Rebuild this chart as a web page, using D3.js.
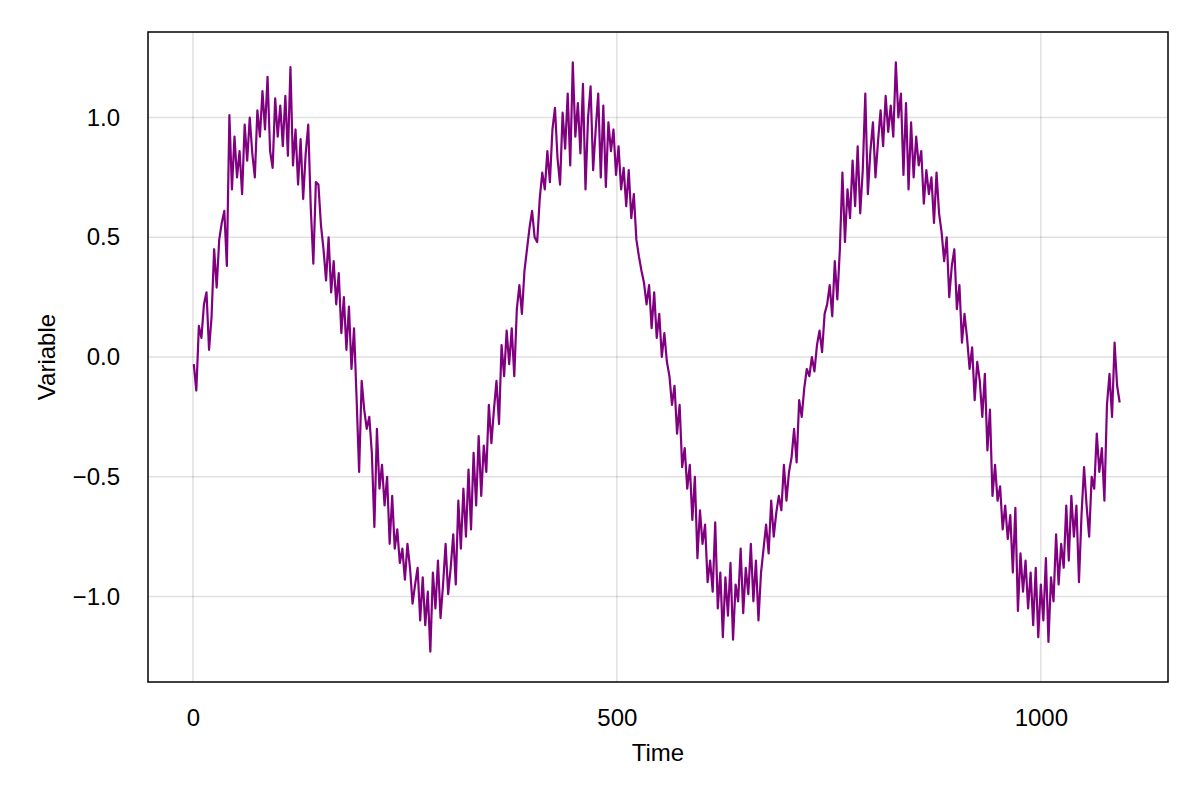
<!DOCTYPE html>
<html>
<head>
<meta charset="utf-8">
<script src="https://cdn.jsdelivr.net/npm/d3@7"></script>
<style>
body { margin: 0; background: #fff; }
svg text { font-family: "Liberation Sans", Arial, sans-serif; }
</style>
</head>
<body>
<svg id="chart" width="1200" height="800"></svg>
<script>
// series: one reading every 3 days, first reading at day 1
var dayStart = 1, dayStep = 3;
var values = [
  -0.03, -0.14, 0.13, 0.08, 0.22,   0.27, 0.03, 0.17, 0.45, 0.29,
  0.49, 0.56, 0.61, 0.38, 1.01,     0.70, 0.92, 0.75, 0.86, 0.68,
  0.97, 0.82, 1.00, 0.85, 0.75,     1.03, 0.92, 1.11, 0.95, 1.17,
  0.86, 0.79, 1.08, 0.92, 1.05,     0.88, 1.09, 0.84, 1.21, 0.80,
  0.95, 0.72, 0.91, 0.66, 0.85,     0.97, 0.62, 0.39, 0.73, 0.72,
  0.55, 0.45, 0.32, 0.50, 0.27,     0.40, 0.22, 0.35, 0.10, 0.25,
  0.03, 0.21, -0.05, 0.12, -0.17,   -0.48, -0.10, -0.22, -0.30, -0.25,
  -0.40, -0.71, -0.30, -0.55, -0.45, -0.62, -0.50, -0.78, -0.58, -0.80,
  -0.72, -0.86, -0.80, -0.93, -0.78, -0.88, -1.03, -0.95, -0.88, -1.10,
  -0.92, -1.12, -0.98, -1.23, -0.90, -1.05, -0.85, -1.09, -0.95, -0.78,
  -0.99, -0.88, -0.74, -0.95, -0.60, -0.80, -0.55, -0.75, -0.47, -0.72,
  -0.40, -0.62, -0.33, -0.58, -0.37, -0.48, -0.20, -0.36, -0.22, -0.10,
  -0.28, 0.05, -0.08, 0.11, -0.03,  0.12, -0.08, 0.20, 0.30, 0.18,
  0.36, 0.45, 0.54, 0.61, 0.50,     0.48, 0.66, 0.77, 0.70, 0.86,
  0.73, 0.95, 1.04, 0.83, 0.72,     1.02, 0.87, 1.10, 0.80, 1.23,
  0.92, 1.06, 0.85, 1.14, 0.70,     1.00, 1.13, 0.78, 0.95, 1.10,
  0.75, 1.05, 0.71, 0.98, 0.86,     0.95, 0.76, 0.88, 0.70, 0.79,
  0.63, 0.78, 0.58, 0.68, 0.49,     0.42, 0.36, 0.31, 0.22, 0.30,
  0.12, 0.27, 0.08, 0.18, 0.00,     0.10, -0.02, -0.08, -0.20, -0.12,
  -0.32, -0.20, -0.46, -0.38, -0.55, -0.45, -0.68, -0.50, -0.84, -0.64,
  -0.78, -0.70, -0.94, -0.85, -0.98, -0.69, -1.05, -0.90, -1.17, -0.92,
  -1.08, -0.86, -1.18, -0.95, -1.02, -0.80, -1.07, -0.88, -0.99, -0.78,
  -1.02, -0.85, -1.10, -0.90, -0.80, -0.70, -0.82, -0.60, -0.75, -0.65,
  -0.58, -0.64, -0.45, -0.60, -0.48, -0.42, -0.30, -0.44, -0.18, -0.25,
  -0.13, -0.05, -0.08, 0.00, -0.06, 0.05, 0.11, 0.02, 0.18, 0.22,
  0.30, 0.17, 0.40, 0.24, 0.45,     0.77, 0.48, 0.70, 0.58, 0.82,
  0.63, 0.88, 0.60, 0.78, 1.10,     0.68, 0.86, 0.98, 0.75, 0.90,
  1.03, 0.88, 1.09, 0.94, 1.05,     0.92, 1.23, 1.00, 1.10, 0.76,
  1.06, 0.70, 0.98, 0.75, 0.92,     0.80, 0.86, 0.64, 0.78, 0.68,
  0.75, 0.56, 0.77, 0.60, 0.52,     0.40, 0.50, 0.25, 0.38, 0.45,
  0.20, 0.30, 0.06, 0.18, 0.08,     -0.05, 0.04, -0.18, -0.02, -0.10,
  -0.25, -0.07, -0.39, -0.22, -0.58, -0.45, -0.60, -0.54, -0.72, -0.62,
  -0.76, -0.66, -0.90, -0.63, -1.06, -0.82, -0.98, -0.85, -1.05, -0.90,
  -1.12, -0.88, -1.17, -0.95, -1.10, -0.84, -1.19, -0.92, -1.02, -0.74,
  -0.95, -0.78, -0.88, -0.62, -0.85, -0.58, -0.75, -0.62, -0.94, -0.66,
  -0.46, -0.62, -0.75, -0.50, -0.55, -0.32, -0.48, -0.38, -0.60, -0.20,
  -0.07, -0.25, 0.06, -0.12, -0.19
];
var xTicks = [0, 500, 1000];
var yTicks = [-1, -0.5, 0, 0.5, 1];
var xLabel = "Time";
var yLabel = "Variable";

// set the dimensions and margins of the graph
var margin = {top: 32, right: 32, bottom: 118, left: 148},
    width = 1200 - margin.left - margin.right,
    height = 800 - margin.top - margin.bottom;

var data = values.map(function(v, i) {
  return {t: dayStart + i * dayStep, v: v};
});

// set the ranges
var x = d3.scaleLinear().domain([-53, 1150]).range([0, width]);
var y = d3.scaleLinear().domain([-1.357, 1.357]).range([height, 0]);

var svg = d3.select("#chart");
var g = svg.append("g")
    .attr("transform", "translate(" + margin.left + "," + margin.top + ")");

// grid lines
g.append("g")
    .selectAll("line")
    .data(xTicks)
  .enter().append("line")
    .attr("x1", function(d) { return x(d); })
    .attr("x2", function(d) { return x(d); })
    .attr("y1", 0)
    .attr("y2", height)
    .attr("stroke", "rgba(0,0,0,0.12)")
    .attr("stroke-width", 1.5);

g.append("g")
    .selectAll("line")
    .data(yTicks)
  .enter().append("line")
    .attr("x1", 0)
    .attr("x2", width)
    .attr("y1", function(d) { return y(d); })
    .attr("y2", function(d) { return y(d); })
    .attr("stroke", "rgba(0,0,0,0.12)")
    .attr("stroke-width", 1.5);

// the series
var line = d3.line()
    .x(function(d) { return x(d.t); })
    .y(function(d) { return y(d.v); });

g.append("path")
    .datum(data)
    .attr("fill", "none")
    .attr("stroke", "purple")
    .attr("stroke-width", 2.2)
    .attr("stroke-linejoin", "round")
    .attr("d", line);

// frame
g.append("rect")
    .attr("width", width)
    .attr("height", height)
    .attr("fill", "none")
    .attr("stroke", "#000")
    .attr("stroke-width", 1.5);

// axes
var xAxis = g.append("g")
    .attr("transform", "translate(0," + height + ")")
    .call(d3.axisBottom(x).tickValues(xTicks).tickFormat(d3.format("d")).tickSize(0).tickPadding(27));

var yAxis = g.append("g")
    .call(d3.axisLeft(y).tickValues(yTicks).tickFormat(d3.format(".1f")).tickSize(0).tickPadding(28));

[xAxis, yAxis].forEach(function(a) {
  a.select(".domain").remove();
  a.selectAll("text").attr("font-size", 24).attr("fill", "#000")
      .style("font-family", "'Liberation Sans', Arial, sans-serif");
});

// axis titles
svg.append("text")
    .attr("x", margin.left + width / 2)
    .attr("y", 753)
    .attr("dy", "0.35em")
    .attr("text-anchor", "middle")
    .attr("font-size", 24)
    .text(xLabel);

svg.append("text")
    .attr("transform", "translate(47," + (margin.top + height / 2) + ") rotate(-90)")
    .attr("dy", "0.35em")
    .attr("text-anchor", "middle")
    .attr("font-size", 24)
    .text(yLabel);
</script>
</body>
</html>
